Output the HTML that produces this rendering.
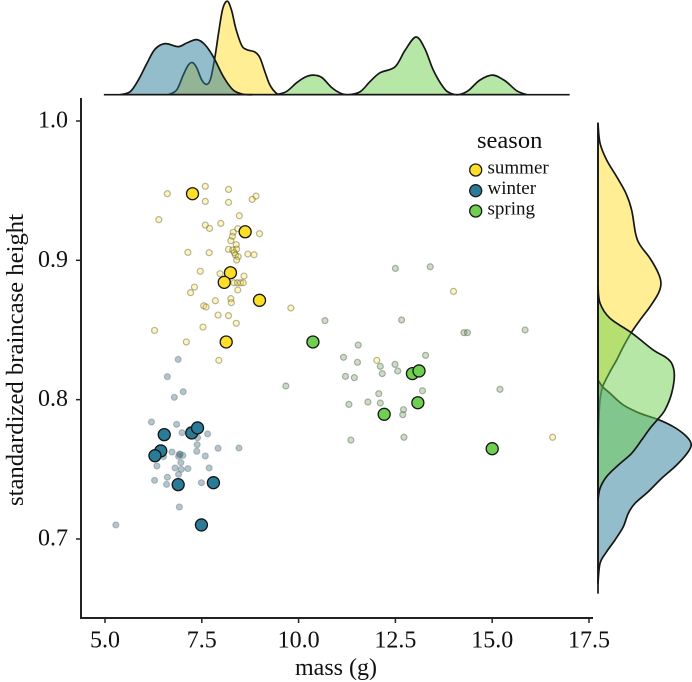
<!DOCTYPE html>
<html lang="en">
<head>
<meta charset="utf-8">
<title>Brain case height versus mass by season</title>
<style>
html,body{margin:0;padding:0;background:#fff;width:692px;height:682px;overflow:hidden}
svg{display:block;font-family:"Liberation Serif",serif;fill:#111}
</style>
</head>
<body>
<svg id="chart" width="692" height="682" viewBox="0 0 692 682" xmlns="http://www.w3.org/2000/svg">
  <rect width="692" height="682" fill="#ffffff"/>
  <g id="top-marginal"></g>
  <g id="right-marginal"></g>
  <g id="small-points"></g>
  <g id="big-points"></g>
  <g id="axes">
    <line x1="81" y1="98" x2="81" y2="618.5" stroke="#222" stroke-width="2"/>
    <line x1="80" y1="618" x2="593" y2="618" stroke="#222" stroke-width="2"/>
  </g>
  <text x="336" y="675" font-size="24" text-anchor="middle">mass (g)</text>
  <text transform="translate(23,360) rotate(-90)" font-size="24.7" text-anchor="middle">standardized braincase height</text>
  <g>
    <text x="477" y="148" font-size="24.5">season</text>
    <circle cx="475.7" cy="170" r="6" fill="#ffde27" stroke="#1a1a1a" stroke-width="1.3"/>
    <text x="487.5" y="173.5" font-size="19">summer</text>
    <circle cx="475.7" cy="190.7" r="6" fill="#2a7b98" stroke="#1a1a1a" stroke-width="1.3"/>
    <text x="487.5" y="194" font-size="19">winter</text>
    <circle cx="475.7" cy="211" r="6" fill="#6ecf50" stroke="#1a1a1a" stroke-width="1.3"/>
    <text x="487.5" y="214.5" font-size="19">spring</text>
  </g>
</svg>
<script>
// ---- tick labels ----
const xTicks = [5.0, 7.5, 10.0, 12.5, 15.0, 17.5];
const yTicks = [0.7, 0.8, 0.9, 1.0];

// ---- individual points ----
const summerMass = [7.59,8.19,8.90,8.80,6.61,7.59,8.19,8.47,6.39,7.59,7.70,7.99,8.43,8.31,8.29,8.25,8.99,8.39,8.19,8.30,8.40,8.34,8.37,8.44,8.40,7.14,7.69,8.69,8.85,7.46,7.97,8.59,8.33,8.42,8.50,8.57,7.31,7.21,8.43,7.85,8.25,8.26,7.55,7.61,7.92,8.19,8.39,7.53,6.28,7.10,7.94,9.80,14.00,12.02,16.56];
const summerHeight = [.9531,.9509,.9461,.9437,.9478,.9423,.9416,.9320,.9292,.9253,.9229,.9265,.9227,.9201,.9172,.9141,.9191,.9112,.9079,.9074,.9081,.9055,.9038,.9026,.9002,.9057,.9055,.9045,.9040,.8921,.8904,.8887,.8839,.8839,.8839,.8839,.8808,.8768,.8787,.8710,.8725,.8696,.8674,.8665,.8607,.8603,.8548,.8521,.8497,.8414,.8282,.8658,.8777,.8282,.7730];
const winterMass = [6.89,6.61,7.02,6.79,6.20,6.85,6.99,7.18,7.65,7.39,7.38,7.92,8.46,7.37,6.73,7.59,6.92,6.90,7.01,6.51,6.96,6.34,6.81,6.97,7.14,7.69,6.90,6.61,6.28,6.59,7.49,6.92,5.28,6.94];
const winterHeight = [.8289,.8165,.8057,.8017,.7840,.7823,.7763,.7782,.7754,.7727,.7677,.7651,.7653,.7629,.7624,.7596,.7608,.7593,.7600,.7591,.7548,.7524,.7510,.7500,.7505,.7510,.7464,.7443,.7421,.7392,.7404,.7230,.7101,.7608];
const springMass = [12.50,13.40,10.68,12.66,14.27,14.36,15.85,11.54,13.28,11.16,11.52,12.11,12.49,12.56,12.16,11.21,11.44,9.67,13.20,15.20,12.07,11.30,11.79,12.11,12.71,12.69,12.72,11.35];
const springHeight = [.8942,.8954,.8567,.8572,.8481,.8481,.8500,.8392,.8318,.8304,.8268,.8239,.8253,.8206,.8187,.8167,.8158,.8098,.8064,.8074,.8043,.7966,.7983,.7976,.7928,.7892,.7730,.7710];

// ---- large points ----
const summerBigMass = [7.26,8.62,8.24,8.08,8.99,8.13];
const summerBigHeight = [.9478,.9205,.8911,.8842,.8713,.8414];
const winterBigMass = [6.53,6.44,6.29,7.24,7.39,6.89,7.80,7.49];
const winterBigHeight = [.7749,.7632,.7598,.7761,.7797,.7390,.7404,.7101];
const springBigMass = [10.37,12.94,13.11,13.08,12.21,15.00];
const springBigHeight = [.8414,.8187,.8206,.7978,.7895,.7648];

// ---- top marginal densities ----
const massRange = [4.97, 17.0];
const summerTopMass = [6.64,6.85,7.02,7.15,7.26,7.37,7.50,7.63,7.73,7.84,7.93,8.04,8.16,8.27,8.38,8.53,8.66,8.87,9.00,9.13,9.26,9.43,9.56];
const summerTopDensity = [0,.05,.209,.316,.344,.287,.156,.11,.174,.404,.652,.918,1,.901,.706,.528,.482,.457,.397,.245,.103,.014,0];
const winterTopMass = [5.39,5.65,5.86,6.08,6.29,6.55,6.89,7.11,7.37,7.58,7.80,8.06,8.31,8.57,8.83];
const winterTopDensity = [0,.032,.156,.333,.486,.546,.514,.553,.589,.535,.404,.191,.05,.004,0];
const springTopMass = [9.43,9.69,9.95,10.17,10.38,10.60,10.85,11.07,11.28,11.59,11.84,12.10,12.49,12.75,13.03,13.26,13.48,13.74,13.91,14.13,14.38,14.68,15.01,15.33,15.63,15.89];
const springTopDensity = [0,.035,.128,.188,.209,.184,.078,.018,0,.032,.138,.234,.298,.475,.617,.493,.262,.078,.018,0,.043,.156,.209,.149,.043,0];

// ---- right marginal densities ----
const heightRange = [.6608, .9988];
const summerSideHeight = [.9983,.984,.972,.960,.948,.936,.919,.911,.9015,.8907,.8835,.8763,.8667,.8572,.8481,.838,.8285,.820,.8093,.7998,.7833,.7639];
const summerSideDensity = [0,.022,.093,.201,.301,.362,.405,.452,.559,.649,.677,.649,.559,.452,.358,.272,.201,.129,.05,.022,.007,0];
const springSideHeight = [.8811,.8692,.8584,.8481,.8356,.8308,.8261,.8177,.8046,.7926,.7859,.7794,.7711,.7615,.7531,.7448,.7364,.728];
const springSideDensity = [0,.022,.129,.358,.595,.72,.792,.821,.792,.72,.642,.559,.47,.362,.219,.093,.022,0];
const winterSideHeight = [.8141,.8093,.8046,.7962,.7902,.7859,.7806,.7746,.7687,.7627,.7531,.7436,.7340,.7256,.7185,.7088,.6993,.6909,.6826,.6682];
const winterSideDensity = [0,.05,.129,.272,.452,.642,.81,.935,1,.971,.846,.685,.541,.398,.326,.272,.183,.093,.022,0];

// ---- axis functions ----
const NS = 'http://www.w3.org/2000/svg';
const xScale = m => 105 + (m - 5) * 38.72;
const yScale = h => 121 + (1 - h) * 1393.3;
const topDensityY = d => 94.7 - d * 93.5;
const sideDensityX = d => 598 + d * 93;
const colors = { summer: '#ffde27', winter: '#2a7b98', spring: '#6ecf50' };
const smallFill = { summer: '#ffde27', winter: '#5b7f8c', spring: '#6d9a5c' };
const smallFillOpacity = { summer: '0.3', winter: '0.45', spring: '0.35' };
const smallStroke = { summer: '#4a4a20', winter: '#5b7480', spring: '#404a38' };

function smoothPath(pts) {
  let s = 'M' + pts[0][0].toFixed(2) + ' ' + pts[0][1].toFixed(2);
  for (let i = 0; i < pts.length - 1; i++) {
    const p0 = pts[Math.max(i - 1, 0)], p1 = pts[i], p2 = pts[i + 1], p3 = pts[Math.min(i + 2, pts.length - 1)];
    const c1x = p1[0] + (p2[0] - p0[0]) / 6, c1y = p1[1] + (p2[1] - p0[1]) / 6;
    const c2x = p2[0] - (p3[0] - p1[0]) / 6, c2y = p2[1] - (p3[1] - p1[1]) / 6;
    s += 'C' + c1x.toFixed(2) + ' ' + c1y.toFixed(2) + ' ' + c2x.toFixed(2) + ' ' + c2y.toFixed(2) + ' ' + p2[0].toFixed(2) + ' ' + p2[1].toFixed(2);
  }
  return s;
}

// ---- top densities ----
const topPanel = document.getElementById('top-marginal');
function drawTopDensity(season, masses, densities) {
  const pts = masses.map((m, i) => [xScale(m), topDensityY(densities[i])]);
  const el = document.createElementNS(NS, 'path');
  el.setAttribute('d', smoothPath(pts) + 'Z');
  el.setAttribute('fill', colors[season]);
  el.setAttribute('fill-opacity', '0.5');
  el.setAttribute('stroke', '#161616');
  el.setAttribute('stroke-width', '1.7');
  el.setAttribute('stroke-linejoin', 'round');
  
  
  topPanel.appendChild(el);
}
drawTopDensity('summer', summerTopMass, summerTopDensity);
drawTopDensity('winter', winterTopMass, winterTopDensity);
drawTopDensity('spring', springTopMass, springTopDensity);
const topBase = document.createElementNS(NS, 'line');
topBase.setAttribute('x1', xScale(massRange[0]));
topBase.setAttribute('x2', xScale(massRange[1]));
topBase.setAttribute('y1', topDensityY(0));
topBase.setAttribute('y2', topDensityY(0));
topBase.setAttribute('stroke', '#161616');
topBase.setAttribute('stroke-width', '1.7');


topPanel.appendChild(topBase);

// ---- right densities ----
const sidePanel = document.getElementById('right-marginal');
function drawSideDensity(season, heights, densities) {
  const pts = heights.map((h, i) => [sideDensityX(densities[i]), yScale(h)]);
  const el = document.createElementNS(NS, 'path');
  el.setAttribute('d', smoothPath(pts) + 'Z');
  el.setAttribute('fill', colors[season]);
  el.setAttribute('fill-opacity', '0.5');
  el.setAttribute('stroke', '#161616');
  el.setAttribute('stroke-width', '1.7');
  el.setAttribute('stroke-linejoin', 'round');
  
  
  sidePanel.appendChild(el);
}
drawSideDensity('summer', summerSideHeight, summerSideDensity);
drawSideDensity('winter', winterSideHeight, winterSideDensity);
drawSideDensity('spring', springSideHeight, springSideDensity);
const sideBase = document.createElementNS(NS, 'line');
sideBase.setAttribute('x1', sideDensityX(0));
sideBase.setAttribute('x2', sideDensityX(0));
sideBase.setAttribute('y1', yScale(heightRange[1]));
sideBase.setAttribute('y2', yScale(heightRange[0]));
sideBase.setAttribute('stroke', '#161616');
sideBase.setAttribute('stroke-width', '1.7');


sidePanel.appendChild(sideBase);

// ---- small points ----
const smallLayer = document.getElementById('small-points');
function drawSmall(season, masses, heights) {
  masses.forEach((m, i) => {
    const c = document.createElementNS(NS, 'circle');
    c.setAttribute('cx', xScale(m));
    c.setAttribute('cy', yScale(heights[i]));
    c.setAttribute('r', '3');
    c.setAttribute('fill', smallFill[season]);
    c.setAttribute('fill-opacity', smallFillOpacity[season]);
    c.setAttribute('stroke', smallStroke[season]);
    c.setAttribute('stroke-opacity', '0.4');
    c.setAttribute('stroke-width', '1.2');
    
    
    smallLayer.appendChild(c);
  });
}
drawSmall('summer', summerMass, summerHeight);
drawSmall('winter', winterMass, winterHeight);
drawSmall('spring', springMass, springHeight);

// ---- large points ----
const bigLayer = document.getElementById('big-points');
function drawBig(season, masses, heights) {
  masses.forEach((m, i) => {
    const c = document.createElementNS(NS, 'circle');
    c.setAttribute('cx', xScale(m));
    c.setAttribute('cy', yScale(heights[i]));
    c.setAttribute('r', '6');
    c.setAttribute('fill', colors[season]);
    c.setAttribute('stroke', '#141414');
    c.setAttribute('stroke-width', '1.3');
    
    
    bigLayer.appendChild(c);
  });
}
drawBig('summer', summerBigMass, summerBigHeight);
drawBig('spring', springBigMass, springBigHeight);
drawBig('winter', winterBigMass, winterBigHeight);

// ---- ticks ----
const axesLayer = document.getElementById('axes');
xTicks.forEach(v => {
  const t = document.createElementNS(NS, 'line');
  t.setAttribute('x1', xScale(v));
  t.setAttribute('x2', xScale(v));
  t.setAttribute('y1', '618');
  t.setAttribute('y2', '623');
  t.setAttribute('stroke', '#222');
  t.setAttribute('stroke-width', '1.5');
  
  
  axesLayer.appendChild(t);
  const l = document.createElementNS(NS, 'text');
  l.setAttribute('x', xScale(v));
  l.setAttribute('y', '647.5');
  l.setAttribute('font-size', '24');
  l.setAttribute('text-anchor', 'middle');
  
  
  l.textContent = v.toFixed(1);
  axesLayer.appendChild(l);
});
yTicks.forEach(v => {
  const t = document.createElementNS(NS, 'line');
  t.setAttribute('x1', '76');
  t.setAttribute('x2', '81');
  t.setAttribute('y1', yScale(v));
  t.setAttribute('y2', yScale(v));
  t.setAttribute('stroke', '#222');
  t.setAttribute('stroke-width', '1.5');
  
  
  axesLayer.appendChild(t);
  const l = document.createElementNS(NS, 'text');
  l.setAttribute('x', '68');
  l.setAttribute('y', yScale(v) + 6.5);
  l.setAttribute('font-size', '24');
  l.setAttribute('text-anchor', 'end');
  
  
  l.textContent = v.toFixed(1);
  axesLayer.appendChild(l);
});
</script>
</body>
</html>
